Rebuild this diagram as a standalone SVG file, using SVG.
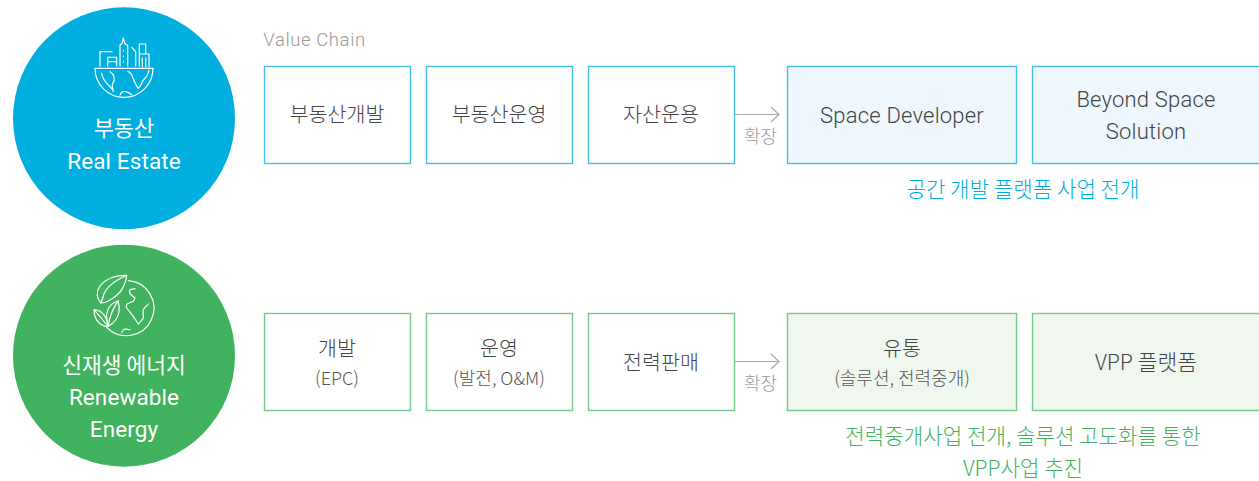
<svg xmlns="http://www.w3.org/2000/svg" width="1259" height="481" viewBox="0 0 1259 481">
<style>
text{font-family:"Noto Sans CJK KR","Noto Sans",sans-serif;text-anchor:middle;font-weight:300}
.e{font-family:Roboto,"Noto Sans",sans-serif}
.l{font-size:20.6px;fill:#444}
.le{font-size:22px;fill:#444;letter-spacing:.2px}
.s{font-size:18px;fill:#555}
.c{font-size:21.5px;fill:#fff;font-weight:400}
.ce{font-size:22.5px;fill:#fff;font-weight:400;letter-spacing:.1px}
.b{fill:#fff;stroke:#45bfe6;stroke-width:1.4}
.bf{fill:#eef7fd;stroke:#45bfe6;stroke-width:1.4}
.g{fill:#fff;stroke:#73c987;stroke-width:1.4}
.gf{fill:#f0f7ef;stroke:#73c987;stroke-width:1.4}
.a{fill:none;stroke:#a8a8a8;stroke-width:1.2}
.x{font-size:18px;fill:#999}
.i{fill:none;stroke:#fff;stroke-width:1.2;stroke-linecap:round;stroke-linejoin:round}
.n{font-size:21.2px;fill:#00aedf}
.m{font-size:21.2px;fill:#41b35f}
</style>
<text class="e" x="314.500" y="46" style="font-size:18.500px;fill:#999;letter-spacing:.6px">Value Chain</text>
<g id="connectors">
<path class="a" d="M735 114.500H779M771 107L779 114.500L771 122"/>
<path class="a" d="M735 361.500H779M771 354L779 361.500L771 369"/>
</g>
<text class="x" x="760.500" y="143">확장</text>
<text class="x" x="760.500" y="390">확장</text>
<g id="realestate">
<circle cx="124" cy="118.300" r="111" fill="#00aedf"/>
<g class="i">
<path d="M95 68.300H153"/>
<path d="M95 68.300A29 29 0 0 0 153 68.300"/>
<path d="M100 66V51.700H112M107.700 66V57.300H116.700V66M107.700 61.700H116.700"/>
<path d="M120 66V45L122 43.500L123.300 38L124.800 43.500L127.700 45.500V66M123.500 50.500V51M123.500 56V56.500M123.500 61.500V62"/>
<path d="M131.700 47.300L135.700 51.700V66M139.300 66V44H145.700V54M139.300 54H149V67M142.300 58V67M145.700 58V67"/>
<path d="M101.700 73.300C102 78 105 82 110 86.700L113 90M110 71.700C114 74 116 79 112.500 84C111.500 86 113 89 113.300 91.700"/>
<path d="M127.700 71.700C130 72 132 75 133 78C134.500 82 136 86 138.300 88.300C141 86 142 82 143.300 80C145.500 78 148 76 149 70"/>
<path d="M120 95C121 92.500 123 91 125 91.500C127 92 130 92.500 131.700 95"/>
</g>
<text class="c" x="124" y="136" style="font-size:22px">부동산</text>
<text class="ce e" x="124" y="169">Real Estate</text>
</g>
<g id="renewable">
<circle cx="124" cy="355.700" r="111" fill="#41b35f"/>
<g class="i">
<path d="M128.300 280.700A27.500 27.500 0 1 1 106.700 327.300"/>
<path d="M126.700 275.300C116 275 106 278 100 286C96 292 96.500 298 101 303C106 303 115 298 120 292C124 287 126 281 126.700 275.300Z"/>
<path d="M126.700 275.300C114 281 105 288 103 297L101 303"/>
<path d="M118.300 300.700C112 303 107 308 106.500 315C106.500 319 107.500 323 108.300 326.300C114 323 118 318 119 312C119.500 308 119 304 118.300 300.700ZM118.300 300.700C112 310 109 318 108.300 326.300"/>
<path d="M94 309.700C102 310 107 317 108.300 326.300C101 327 94 320 94 309.700ZM94 309.700L108.300 326.300"/>
<path d="M135 288.700L130 289.700C129 292 129.500 294 132 295.500L135 298L133.300 301.300L127 304C126 305 126.300 307 126.700 308L133.300 316.300L138.300 324C140 322 142.500 320 143.300 318C143.500 315 142.500 312 143.300 309.700C144.500 307 147 306 148.300 304"/>
<path d="M121.700 333C122 330.500 124 329 126 329.200L130 329.700"/>
</g>
<text class="c" x="124" y="373">신재생 에너지</text>
<text class="ce e" x="124" y="405">Renewable</text>
<text class="ce e" x="124" y="437">Energy</text>
</g>
<g id="n1"><rect class="b" x="264.500" y="66.500" width="146" height="97"/><text class="l" x="337" y="121.500">부동산개발</text></g>
<g id="n2"><rect class="b" x="426.500" y="66.500" width="146" height="97"/><text class="l" x="499" y="121.500">부동산운영</text></g>
<g id="n3"><rect class="b" x="588.500" y="66.500" width="146" height="97"/><text class="l" x="661" y="121.500">자산운용</text></g>
<g id="n4"><rect class="bf" x="787.500" y="66.500" width="229" height="97"/><text class="le e" x="902" y="123">Space Developer</text></g>
<g id="n5"><rect class="bf" x="1032.500" y="66.500" width="228" height="97"/><text class="le e" x="1146" y="107">Beyond Space</text><text class="le e" x="1146" y="139">Solution</text></g>
<text class="n" x="1023" y="197">공간 개발 플랫폼 사업 전개</text>
<g id="n6"><rect class="g" x="264.500" y="313.500" width="146" height="97"/><text class="l" x="337" y="356">개발</text><text class="s" x="337" y="385">(EPC)</text></g>
<g id="n7"><rect class="g" x="426.500" y="313.500" width="146" height="97"/><text class="l" x="499" y="356">운영</text><text class="s" x="499" y="385">(발전, O&amp;M)</text></g>
<g id="n8"><rect class="g" x="588.500" y="313.500" width="146" height="97"/><text class="l" x="661" y="370">전력판매</text></g>
<g id="n9"><rect class="gf" x="787.500" y="313.500" width="229" height="97"/><text class="l" x="902" y="356">유통</text><text class="s" x="902" y="385">(솔루션, 전력중개)</text></g>
<g id="n10"><rect class="gf" x="1032.500" y="313.500" width="228" height="97"/><text class="l" x="1146" y="370" style="font-size:21.5px">VPP 플랫폼</text></g>
<text class="m" x="1023" y="444">전력중개사업 전개, 솔루션 고도화를 통한</text>
<text class="m" x="1023" y="476">VPP사업 추진</text>
</svg>
